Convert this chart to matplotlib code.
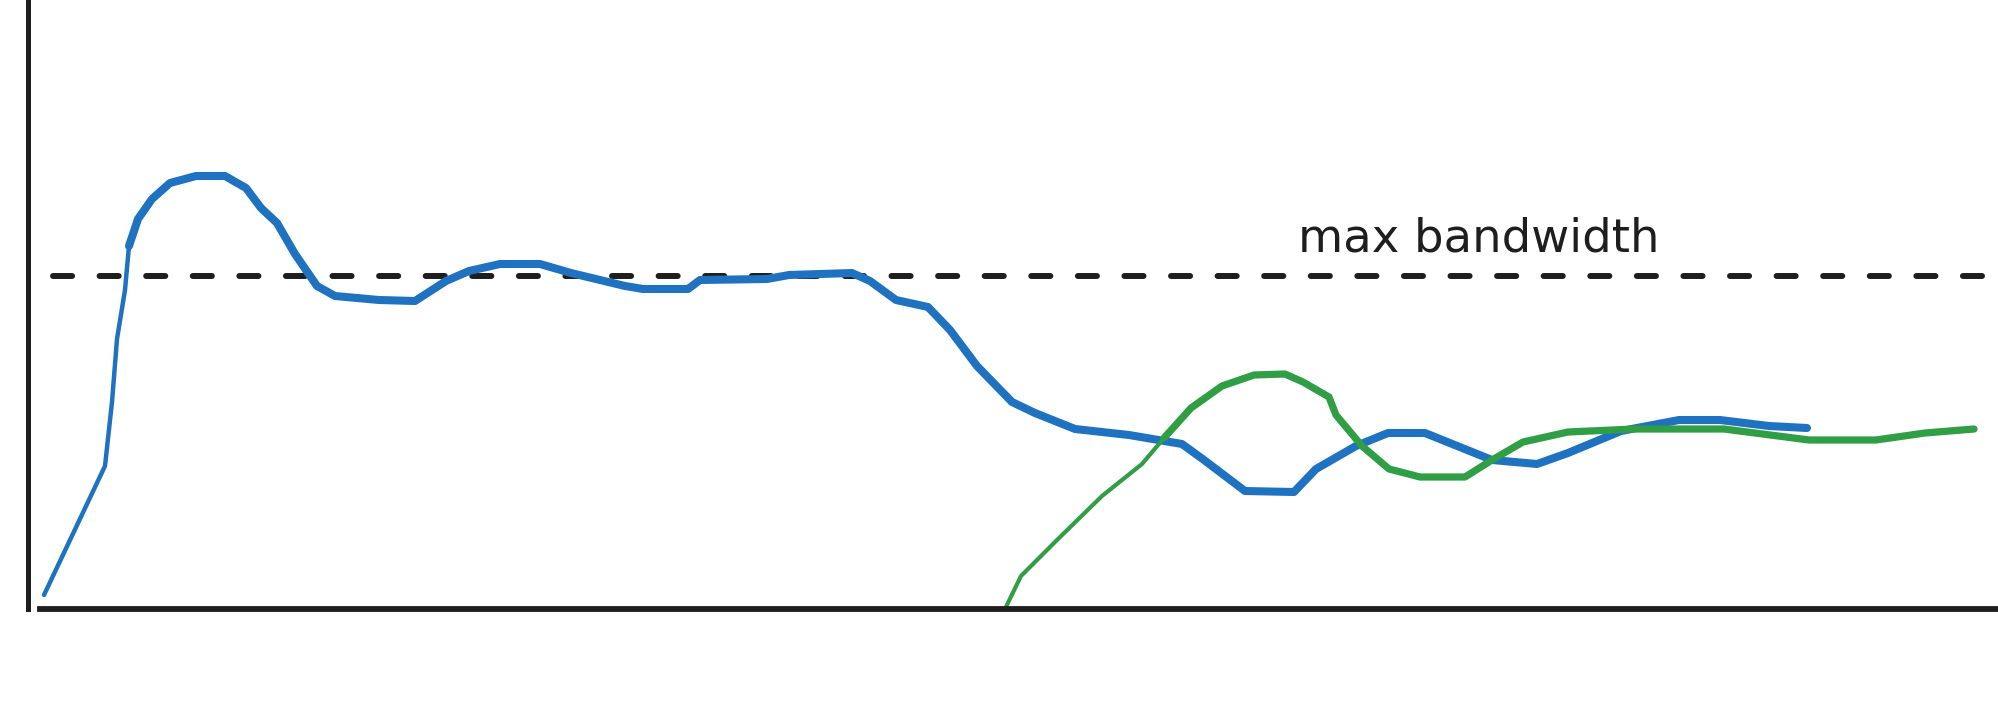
"""
Sketch of throughput over time against a max bandwidth line.
"""
import matplotlib
matplotlib.use("Agg")
import matplotlib.pyplot as plt

# time axis positions and throughput values
blue_x = [44, 105, 112, 117, 125, 129, 138, 152, 170, 196, 225, 246, 261, 277,
          295, 317, 335, 379, 415, 446, 469, 500, 540, 571, 625, 643, 688, 700,
          767, 789, 852, 870, 896, 928, 950, 977, 1012, 1035, 1075, 1129, 1182,
          1204, 1245, 1294, 1316, 1356, 1388, 1425, 1492, 1537, 1568, 1621,
          1679, 1720, 1769, 1807]
blue_y = [14, 143, 207, 270, 319, 363, 390, 410, 426, 433, 433, 421, 401, 386,
          355, 323, 313, 309, 308, 328, 338, 345, 345, 336, 323, 320, 320, 329,
          330, 334, 336, 328, 309, 302, 279, 243, 207, 196, 180, 174, 165,
          149, 118, 117, 140, 163, 176, 176, 149, 145, 156, 178,
          189, 189, 183, 181]

green_x = [1005, 1021, 1057, 1102, 1142, 1164, 1191, 1222, 1254, 1285, 1303,
           1329, 1336, 1362, 1389, 1420, 1465, 1492, 1523, 1568, 1635, 1724,
           1809, 1876, 1925, 1974]
green_y = [0, 33, 69, 113, 145, 171, 201, 223, 234, 235, 227,
           212, 194, 163, 140, 132, 132, 149, 167, 177, 180, 180,
           169, 169, 176, 180]

max_bandwidth = 333
label = "max bandwidth"

blue = "#1f72c0"
green = "#2f9e44"
ink = "#1e1e1e"

fig = plt.figure(figsize=(19.99, 7.04), dpi=100)
# axes placed so the spines sit where the hand-drawn axes are
ax = fig.add_axes([28 / 1999, 95 / 704, 1 - 28 / 1999, 609 / 704])
ax.set_xlim(28, 1999)
ax.set_ylim(0, 609)

for side in ("top", "right"):
    ax.spines[side].set_visible(False)
ax.spines["left"].set_linewidth(3.6)
ax.spines["bottom"].set_linewidth(4.2)
ax.spines["bottom"].set_bounds(40, 1999)
ax.spines["left"].set_color(ink)
ax.spines["bottom"].set_color(ink)
ax.set_xticks([])
ax.set_yticks([])

# dashed max bandwidth line
ax.plot([53, 1999], [max_bandwidth, max_bandwidth], color=ink, lw=4.3,
        dashes=(3.2, 4.6), dash_capstyle="round", clip_on=False)
ax.text(1298, max_bandwidth + 24, label, fontsize=33.5, color=ink,
        ha="left", va="baseline", family="DejaVu Sans")

# blue series: thin rising stroke, then thicker
split_b = 6
ax.plot(blue_x[:split_b], blue_y[:split_b], color=blue, lw=3.2,
        solid_capstyle="round", solid_joinstyle="round")
ax.plot(blue_x[split_b - 1:], blue_y[split_b - 1:], color=blue, lw=5.8,
        solid_capstyle="round", solid_joinstyle="round")

# green series: thin rising stroke, then thicker
split_g = 6
ax.plot(green_x[:split_g], green_y[:split_g], color=green, lw=3.0,
        solid_capstyle="round", solid_joinstyle="round", clip_on=False)
ax.plot(green_x[split_g - 1:], green_y[split_g - 1:], color=green, lw=5.2,
        solid_capstyle="round", solid_joinstyle="round")

fig.savefig("out.png", dpi=100, facecolor="white")
